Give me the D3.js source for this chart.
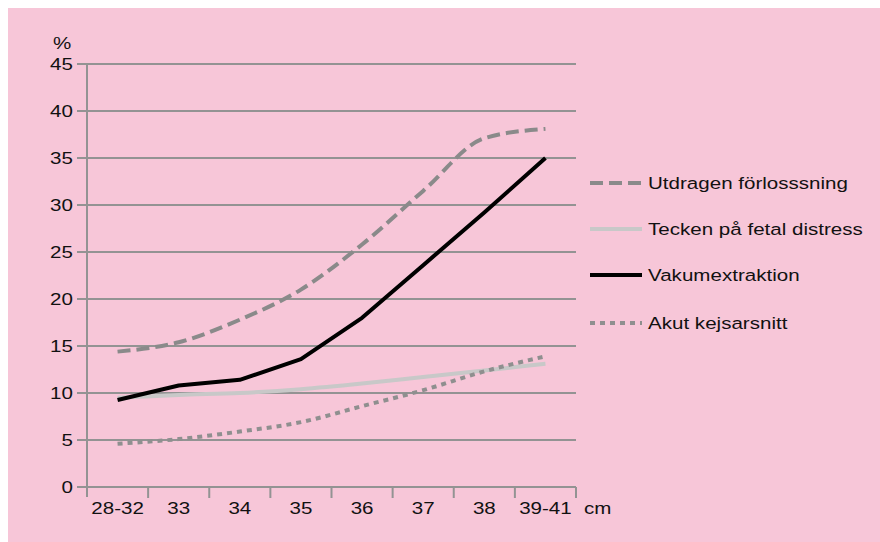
<!DOCTYPE html>
<html><head><meta charset="utf-8">
<script src="https://cdn.jsdelivr.net/npm/d3@7"></script>
<style>html,body{margin:0;padding:0;background:#fff;}svg{display:block;}</style>
</head><body>
<svg id="chart" width="880" height="542"></svg>
<script>
const categories = ["28-32","33","34","35","36","37","38","39-41"];
const utdragen = [14.4, 15.4, 17.8, 21.0, 25.8, 31.5, 37.1, 38.1];
const tecken   = [9.5, 9.8, 10.0, 10.4, 11.0, 11.7, 12.4, 13.1];
const vakum    = [9.25, 10.8, 11.4, 13.6, 18.0, 23.6, 29.2, 35.0];
const akut     = [4.6, 5.1, 5.9, 6.9, 8.6, 10.3, 12.3, 13.9];
const yTicks = [0,5,10,15,20,25,30,35,40,45];
const seriesNames = ["Utdragen förlosssning","Tecken på fetal distress","Vakumextraktion","Akut kejsarsnitt"];

(function(){
const svg = d3.select("#chart");
const font = "'Liberation Sans', Arial, Helvetica, sans-serif";
const FS = 17, SX = 1.21;
svg.append("rect").attr("x",8).attr("y",8).attr("width",872).attr("height",534).attr("fill","#F7C6D8");

function label(g, x0, y0, txt, anchor){
  return g.append("text").attr("transform", `translate(${x0},${y0}) scale(${SX},1)`)
    .attr("text-anchor", anchor||"start").attr("font-family", font).attr("font-size", FS)
    .attr("fill", "#111").text(txt);
}

const pLeft = 87, pRight = 576, pTop = 64, pBottom = 487;
const x = d3.scalePoint().domain(categories).range([pLeft, pRight]).padding(0.5);
const xBand = d3.scaleBand().domain(categories).range([pLeft, pRight]);
const y = d3.scaleLinear().domain([0,45]).range([pBottom, pTop]);
const grid = "#939393";

svg.append("g").selectAll("line").data(yTicks).join("line")
  .attr("x1", pLeft-10).attr("x2", pRight).attr("y1", d=>y(d)).attr("y2", d=>y(d))
  .attr("stroke", grid).attr("stroke-width", 2);
svg.append("line").attr("x1",pLeft).attr("x2",pLeft).attr("y1",pTop).attr("y2",pBottom+10)
  .attr("stroke",grid).attr("stroke-width",2);
const gl = svg.append("g");
yTicks.forEach(d=>label(gl, pLeft-14, y(d)+6, d, "end"));
label(gl, 53, 49, "%");

const xTickPos = categories.map(c=>xBand(c)+xBand.bandwidth());
svg.append("g").selectAll("line").data(xTickPos).join("line")
  .attr("x1",d=>d).attr("x2",d=>d).attr("y1",pBottom).attr("y2",pBottom+11)
  .attr("stroke",grid).attr("stroke-width",2);
categories.forEach(c=>label(gl, x(c), pBottom+27, c, "middle"));
label(gl, 584, pBottom+27, "cm");

const styles = [
  {data: utdragen, color:"#8a8a8a", width:4, dash:"13,6", curve:d3.curveMonotoneX},
  {data: tecken, color:"#c8c8c8", width:4, dash:null, curve:d3.curveMonotoneX},
  {data: vakum, color:"#000", width:4, dash:null, curve:d3.curveLinear},
  {data: akut, color:"#8f8f8f", width:4, dash:"5,5", curve:d3.curveMonotoneX}
];
[1,3,0,2].forEach(k=>{
  const s = styles[k];
  const line = d3.line().x((d,i)=>x(categories[i])).y(d=>y(d)).curve(s.curve);
  svg.append("path").attr("d", line(s.data)).attr("fill","none")
    .attr("stroke", s.color).attr("stroke-width", s.width)
    .attr("stroke-linejoin","round")
    .attr("stroke-dasharray", s.dash);
});

const legY = [183, 229, 275, 323];
seriesNames.forEach((n,k)=>{
  const s = styles[k];
  svg.append("line").attr("x1",590).attr("x2",642).attr("y1",legY[k]).attr("y2",legY[k])
    .attr("stroke",s.color).attr("stroke-width",s.width).attr("stroke-dasharray",s.dash);
  label(gl, 648, legY[k]+6, n);
});
})();
</script>
</body></html>
